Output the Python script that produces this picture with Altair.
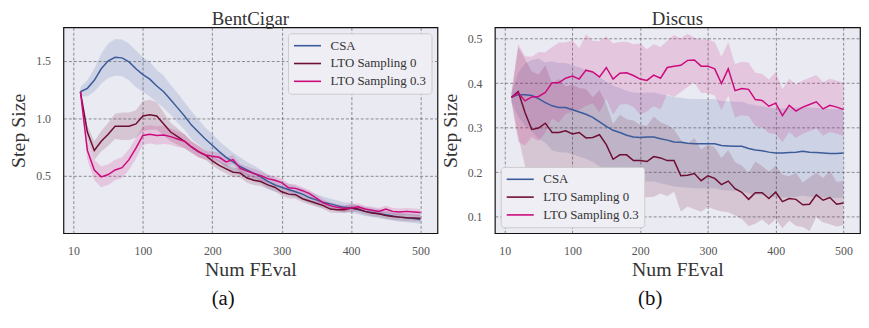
import altair as alt
import pandas as pd

# ---------------- data ----------------
feval = list(range(10, 501, 10))
series_names = ["CSA", "LTO Sampling 0", "LTO Sampling 0.3"]
series_colors = ["#3b5b9a", "#6e0e32", "#cc0a7d"]

x_tick_values = [0, 100, 200, 300, 400, 500]
x_tick_labels = ["10", "100", "200", "300", "400", "500"]

# BentCigar
bc_csa = [1.23, 1.26, 1.33, 1.43, 1.50, 1.53, 1.525, 1.49, 1.43, 1.38,
          1.34, 1.28, 1.23, 1.16, 1.09, 1.02, 0.94, 0.88, 0.82, 0.765,
          0.71, 0.66, 0.62, 0.58, 0.55, 0.52, 0.49, 0.45, 0.42, 0.40,
          0.38, 0.36, 0.34, 0.31, 0.29, 0.27, 0.255, 0.24, 0.225, 0.22,
          0.205, 0.19, 0.18, 0.17, 0.16, 0.15, 0.14, 0.135, 0.128, 0.12]
bc_lto0 = [1.23, 0.88, 0.72, 0.80, 0.86, 0.93, 0.93, 0.93, 0.95, 1.02,
           1.03, 1.02, 0.95, 0.88, 0.84, 0.80, 0.75, 0.71, 0.68, 0.63,
           0.59, 0.56, 0.53, 0.525, 0.48, 0.46, 0.45, 0.42, 0.40, 0.36,
           0.34, 0.335, 0.30, 0.28, 0.26, 0.24, 0.21, 0.205, 0.205, 0.22,
           0.21, 0.19, 0.175, 0.17, 0.155, 0.145, 0.14, 0.135, 0.132, 0.13]
bc_lto3 = [1.23, 0.72, 0.55, 0.49, 0.51, 0.55, 0.57, 0.64, 0.74, 0.85,
           0.86, 0.85, 0.855, 0.84, 0.82, 0.80, 0.75, 0.71, 0.68, 0.67,
           0.66, 0.62, 0.64, 0.565, 0.54, 0.52, 0.50, 0.475, 0.46, 0.44,
           0.395, 0.39, 0.37, 0.345, 0.305, 0.265, 0.24, 0.225, 0.215, 0.22,
           0.23, 0.21, 0.20, 0.19, 0.21, 0.19, 0.185, 0.19, 0.185, 0.18]
bc_csa_spread = [0.04, 0.07, 0.10, 0.13, 0.15, 0.16, 0.16, 0.16, 0.16, 0.15,
                 0.15, 0.14, 0.14, 0.13, 0.13, 0.12, 0.12, 0.11, 0.10, 0.10,
                 0.09, 0.09, 0.08, 0.08, 0.07, 0.07, 0.06, 0.06, 0.06, 0.05,
                 0.05, 0.05, 0.05, 0.05, 0.05, 0.05, 0.045, 0.045, 0.045, 0.045,
                 0.04, 0.04, 0.04, 0.04, 0.04, 0.04, 0.04, 0.04, 0.04, 0.04]
bc_lto0_spread = [0.02, 0.06, 0.08, 0.09, 0.10, 0.11, 0.12, 0.12, 0.12, 0.13,
                  0.13, 0.12, 0.10, 0.08, 0.07, 0.06, 0.05, 0.05, 0.04, 0.04,
                  0.04, 0.04, 0.04, 0.04, 0.04, 0.04, 0.04, 0.035, 0.035, 0.035,
                  0.035, 0.035, 0.03, 0.03, 0.03, 0.03, 0.03, 0.03, 0.03, 0.03,
                  0.03, 0.03, 0.03, 0.03, 0.03, 0.03, 0.03, 0.03, 0.03, 0.03]
bc_lto3_spread = [0.02, 0.08, 0.09, 0.09, 0.09, 0.09, 0.09, 0.09, 0.09, 0.08,
                  0.08, 0.08, 0.08, 0.07, 0.07, 0.06, 0.05, 0.05, 0.04, 0.04,
                  0.04, 0.04, 0.04, 0.04, 0.04, 0.04, 0.04, 0.035, 0.035, 0.035,
                  0.035, 0.035, 0.03, 0.03, 0.03, 0.03, 0.03, 0.03, 0.03, 0.03,
                  0.03, 0.03, 0.03, 0.03, 0.03, 0.03, 0.03, 0.03, 0.03, 0.03]

# Discus
di_csa = [0.368, 0.374, 0.374, 0.372, 0.365, 0.356, 0.349, 0.345, 0.345, 0.340,
          0.335, 0.330, 0.323, 0.313, 0.303, 0.294, 0.289, 0.283, 0.279, 0.278,
          0.279, 0.279, 0.275, 0.272, 0.268, 0.267, 0.265, 0.264, 0.264, 0.264,
          0.264, 0.260, 0.259, 0.258, 0.258, 0.253, 0.250, 0.248, 0.245, 0.243,
          0.243, 0.244, 0.245, 0.247, 0.245, 0.244, 0.243, 0.242, 0.242, 0.243]
di_lto0 = [0.368, 0.381, 0.334, 0.296, 0.299, 0.310, 0.289, 0.289, 0.293, 0.286,
           0.289, 0.277, 0.278, 0.284, 0.262, 0.229, 0.239, 0.239, 0.226, 0.226,
           0.224, 0.235, 0.232, 0.226, 0.226, 0.192, 0.193, 0.197, 0.181, 0.192,
           0.186, 0.172, 0.180, 0.163, 0.155, 0.139, 0.154, 0.154, 0.141, 0.155,
           0.134, 0.141, 0.139, 0.127, 0.128, 0.149, 0.137, 0.143, 0.128, 0.131]
di_lto3 = [0.368, 0.378, 0.360, 0.369, 0.370, 0.379, 0.401, 0.401, 0.411, 0.416,
           0.409, 0.429, 0.425, 0.414, 0.435, 0.409, 0.422, 0.423, 0.417, 0.409,
           0.406, 0.418, 0.411, 0.435, 0.438, 0.440, 0.451, 0.452, 0.438, 0.438,
           0.432, 0.399, 0.432, 0.383, 0.388, 0.386, 0.363, 0.361, 0.348, 0.355,
           0.327, 0.350, 0.337, 0.346, 0.352, 0.358, 0.342, 0.350, 0.346, 0.341]
di_csa_spread = [0.01, 0.05, 0.07, 0.08, 0.09, 0.09, 0.10, 0.10, 0.10, 0.10,
                 0.10, 0.10, 0.10, 0.10, 0.10, 0.10, 0.10, 0.10, 0.10, 0.10,
                 0.10, 0.10, 0.10, 0.10, 0.10, 0.10, 0.10, 0.10, 0.10, 0.10,
                 0.10, 0.10, 0.10, 0.10, 0.10, 0.10, 0.10, 0.10, 0.10, 0.10,
                 0.10, 0.10, 0.10, 0.10, 0.10, 0.10, 0.10, 0.10, 0.10, 0.10]
di_lto0_spread = [0.01, 0.10, 0.12, 0.13, 0.12, 0.13, 0.11, 0.12, 0.10, 0.11,
                  0.10, 0.11, 0.09, 0.10, 0.09, 0.08, 0.09, 0.08, 0.09, 0.08,
                  0.08, 0.09, 0.08, 0.08, 0.07, 0.08, 0.07, 0.08, 0.07, 0.07,
                  0.07, 0.06, 0.07, 0.06, 0.06, 0.06, 0.07, 0.06, 0.06, 0.06,
                  0.06, 0.05, 0.06, 0.05, 0.06, 0.05, 0.05, 0.06, 0.05, 0.05]
di_lto3_spread = [0.01, 0.11, 0.10, 0.09, 0.10, 0.09, 0.08, 0.09, 0.08, 0.08,
                  0.07, 0.08, 0.07, 0.08, 0.07, 0.08, 0.07, 0.07, 0.07, 0.08,
                  0.07, 0.07, 0.07, 0.06, 0.07, 0.06, 0.06, 0.05, 0.06, 0.06,
                  0.06, 0.06, 0.06, 0.06, 0.06, 0.06, 0.06, 0.06, 0.06, 0.07,
                  0.06, 0.06, 0.06, 0.06, 0.06, 0.06, 0.06, 0.06, 0.06, 0.06]


def build_table(means, spreads):
    rows = []
    for name, m, s in zip(series_names, means, spreads):
        for x, v, w in zip(feval, m, s):
            rows.append({"feval": x, "series": name, "band": name,
                         "mean": v, "lo": v - w, "hi": v + w})
    return pd.DataFrame(rows)


bc_df = build_table([bc_csa, bc_lto0, bc_lto3], [bc_csa_spread, bc_lto0_spread, bc_lto3_spread])
di_df = build_table([di_csa, di_lto0, di_lto3], [di_csa_spread, di_lto0_spread, di_lto3_spread])

FONT = "Liberation Serif"
label_expr = "datum.value == 0 ? '10' : datum.label"
LEGEND_LINE = "M-1,0H3.2"


def panel(df, title, ydomain, yticks, legend_orient, w):
    xenc = alt.X("feval:Q",
                 scale=alt.Scale(domain=[-14.5, 524.5], nice=False, zero=False),
                 axis=alt.Axis(values=x_tick_values, labelExpr=label_expr, title="Num FEval"))
    yscale = alt.Scale(domain=ydomain, nice=False, zero=False)
    band = alt.Chart(df).mark_area(opacity=0.16).encode(
        x=xenc,
        y=alt.Y("lo:Q", scale=yscale,
                axis=alt.Axis(values=yticks, format=".1f", title="Step Size")),
        y2="hi:Q",
        fill=alt.Fill("band:N", legend=None,
                      scale=alt.Scale(domain=series_names, range=series_colors)),
    )
    line = alt.Chart(df).mark_line(strokeWidth=1.5).encode(
        x=xenc,
        y=alt.Y("mean:Q", scale=yscale),
        color=alt.Color("series:N",
                        scale=alt.Scale(domain=series_names, range=series_colors),
                        legend=alt.Legend(title=None, orient=legend_orient)),
    )
    return alt.layer(band, line).resolve_legend(fill="independent", color="independent").properties(
        width=w, height=208,
        title=alt.TitleParams(title, frame="group", anchor="middle", fontSize=19,
                              font=FONT, fontWeight="normal", color="#333333",
                              offset=0, dy=2),
    )


left = panel(bc_df, "BentCigar", [0.0, 1.79], [0.5, 1.0, 1.5], "top-right", 378)
right = panel(di_df, "Discus", [0.063, 0.525], [0.1, 0.2, 0.3, 0.4, 0.5], "bottom-left", 369)

left_w = alt.vconcat(left, title=alt.TitleParams("(a)", orient="bottom", anchor="middle",
                                                 frame="bounds", fontSize=21, font=FONT,
                                                 fontWeight="normal", color="#111111", offset=8))
right_w = alt.vconcat(right, title=alt.TitleParams("(b)", orient="bottom", anchor="middle",
                                                   frame="bounds", fontSize=21, font=FONT,
                                                   fontWeight="normal", color="#111111", offset=8))

chart = alt.hconcat(left_w, right_w, spacing=1).resolve_scale(
    color="independent", fill="independent", y="independent"
).resolve_legend(color="independent", fill="independent").properties(
    padding={"left": 0, "top": 0, "right": 0, "bottom": 0}
).configure_view(
    fill="#EAEAF2", stroke="#111111", strokeWidth=1.2
).configure_axis(
    labelFont=FONT, titleFont=FONT, labelFontSize=12, titleFontSize=20,
    labelColor="#555555", titleColor="#333333", titleFontWeight="normal",
    grid=True, gridColor="#555555", gridDash=[3, 2], gridWidth=0.8, gridOpacity=0.8,
    domain=False, ticks=False,
).configure_axisY(
    labelPadding=13, titlePadding=7, minExtent=28, maxExtent=28,
).configure_axisX(
    labelPadding=13, titlePadding=3,
).configure_legend(
    labelFont=FONT, labelFontSize=13, labelColor="#333333",
    symbolType=LEGEND_LINE, symbolSize=169, symbolStrokeWidth=1.6,
    strokeColor="#cccccc", fillColor="#EEEEF4", padding=5, cornerRadius=3,
    offset=6, rowPadding=3, labelOffset=23,
)

chart.save("out.html", embed_options={"renderer": "svg", "actions": False})
